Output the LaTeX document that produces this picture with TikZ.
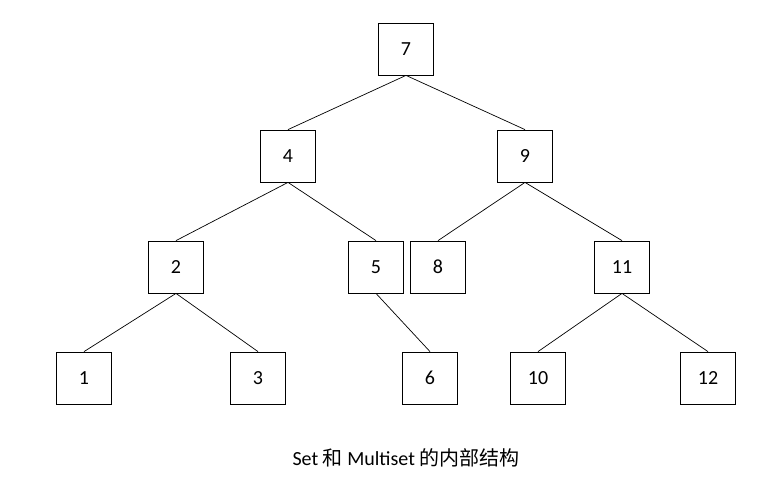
\documentclass[tikz,border=0pt]{standalone}
\usepackage{fontspec}
\setmainfont{Carlito}
\newfontfamily\cjk{Noto Sans CJK SC}
\begin{document}
\begin{tikzpicture}[x=1pt,y=-1pt,
  nd/.style={draw,line width=0.8pt,minimum width=55pt,minimum height=52pt,inner sep=0pt,font=\fontsize{20}{24}\selectfont},
  ed/.style={line width=0.7pt}]
\useasboundingbox (0,0) rectangle (782,485);
\node[nd] (n7) at (406,49) {7};
\node[nd] (n4) at (288,156) {4};
\node[nd] (n9) at (525,156) {9};
\node[nd] (n2) at (176,267) {2};
\node[nd] (n5) at (376,267) {5};
\node[nd] (n8) at (438,267) {8};
\node[nd] (n11) at (622,267) {11};
\node[nd] (n1) at (84,378) {1};
\node[nd] (n3) at (258,378) {3};
\node[nd] (n6) at (430,378) {6};
\node[nd] (n10) at (538,378) {10};
\node[nd] (n12) at (708,378) {12};
\foreach \a/\b in {n7/n4,n7/n9,n4/n2,n4/n5,n9/n8,n9/n11,n2/n1,n2/n3,n5/n6,n11/n10,n11/n12}
  \draw[ed] (\a.south) -- (\b.north);
\node[font=\fontsize{20}{24}\selectfont] (cap) at (406,458) {Set {\cjk 和} Multiset {\cjk 的内部结构}};
\end{tikzpicture}
\end{document}
